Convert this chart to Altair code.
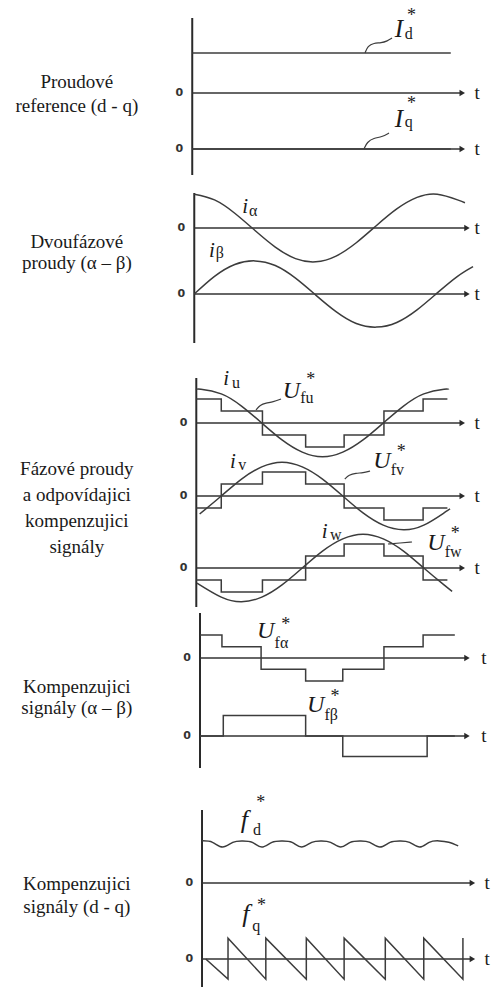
import altair as alt
import pandas as pd

INK = "#3c3c3c"
TEXT_INK = "#1a1a1a"
SERIF = "Liberation Serif, Times New Roman, Tinos, DejaVu Serif, serif"

# Canvas and time scale (t = electrical angle in degrees)
W, H = 491, 987
T_MIN, T_MAX = -297.8, 429.6
UNIT = 36  # drawn height of one signal unit

# ---------------- signals ----------------
# current references in d-q
T_REF = [-13, 370]
I_D_REF = [1.11, 1.11]
I_Q_REF = [0.0, 0.0]

# two-phase currents
T_ALPHA = [-10, 20, 50, 80, 110, 140, 170, 200, 230, 260, 290, 320, 350, 380, 391]
I_ALPHA = [0.94, 0.78, 0.41, -0.07, -0.53, -0.85, -0.94, -0.78, -0.41, 0.07, 0.53, 0.85, 0.94, 0.78, 0.70]
T_BETA = [-10, 20, 50, 80, 110, 140, 170, 200, 230, 260, 290, 320, 350, 380, 403]
I_BETA = [0.0, 0.49, 0.82, 0.92, 0.79, 0.44, -0.03, -0.49, -0.82, -0.92, -0.79, -0.44, 0.03, 0.49, 0.76]

# phase currents
T_U = [-7, 0, 30, 60, 90, 120, 150, 180, 210, 240, 270, 300, 330, 360, 367]
I_U = [0.93, 0.94, 0.81, 0.47, 0.0, -0.47, -0.81, -0.94, -0.81, -0.47, 0.0, 0.47, 0.81, 0.94, 0.93]
T_V = [-2, 30, 60, 90, 120, 150, 180, 210, 240, 270, 300, 330, 360, 369]
I_V = [-0.50, 0.0, 0.47, 0.81, 0.94, 0.81, 0.47, 0.0, -0.47, -0.81, -0.94, -0.81, -0.47, -0.36]
T_W = [-6, 30, 60, 90, 120, 150, 180, 210, 240, 270, 300, 330, 360, 372]
I_W = [-0.42, -0.81, -0.94, -0.81, -0.47, 0.0, 0.47, 0.81, 0.94, 0.81, 0.47, 0.0, -0.47, -0.65]

# six-step compensating signals of the phases
EDGES_UVW = [30, 91, 155, 212, 271, 329]
SPAN_UVW = (-7, 365)
U_FU = [0.67, 0.33, -0.33, -0.67, -0.33, 0.33, 0.67]
U_FV = [-0.33, 0.33, 0.67, 0.33, -0.33, -0.67, -0.33]
U_FW = [-0.33, -0.67, -0.33, 0.33, 0.67, 0.33, -0.33]

# compensating signals in alpha-beta
EDGES_FA = [31, 89, 155, 210, 271, 329]
U_FALPHA = [0.64, 0.31, -0.31, -0.64, -0.31, 0.31, 0.64]
EDGES_FB = [33, 155, 210, 335]
U_FBETA = [0.0, 0.57, 0.0, -0.57, 0.0]
SPAN_AB = (-1.5, 376)

# compensating signals in d-q
T_FD = [1.5, 17, 32, 47, 61, 76, 90, 105, 120, 135, 149, 164, 178, 192, 207,
        221, 236, 250, 265, 280, 295, 309, 324, 338, 353, 367, 381]
F_D = [1.17, 1.13, 1.0, 1.13, 1.17, 1.13, 1.0, 1.13, 1.17, 1.13, 1.0, 1.13, 1.17, 1.13, 1.0,
       1.13, 1.17, 1.13, 1.0, 1.13, 1.17, 1.13, 1.0, 1.13, 1.17, 1.13, 1.03]
T_FQ = [7, 40, 40, 96, 96, 156, 156, 212, 212, 273, 273, 330, 330, 388, 388]
F_Q = [0.0, -0.56, 0.58, -0.56, 0.58, -0.56, 0.58, -0.56, 0.58, -0.56, 0.58, -0.56, 0.58, -0.56, 0.58]

# ---------------- layout ----------------
ROW_BASE = {"d_ref": 93, "q_ref": 149, "alpha": 228, "beta": 294,
            "u": 423, "v": 496, "w": 568, "f_alpha": 658, "f_beta": 736,
            "f_d": 883, "f_q": 959}
ROW_GROUP = {"d_ref": 0, "q_ref": 0, "alpha": 1, "beta": 1, "u": 2, "v": 2, "w": 2,
             "f_alpha": 3, "f_beta": 3, "f_d": 4, "f_q": 4}
GROUP_AXIS_T = [-13, -10, -7, -1.5, 1.5]
GROUP_AXIS_TOP = [18, 193, 378, 613, 810]
GROUP_AXIS_BOTTOM = [175, 343, 607, 768, 987]
GROUP_TIP_T = [391, 398, 391, 398, 406]
GROUP_TLABEL_T = [409, 409, 409, 419, 424]

GROUP_TEXT = [
    (["Proudové", "reference (d - q)"], [82, 106]),
    (["Dvoufázové", "proudy (α – β)"], [242, 263]),
    (["Fázové proudy", "a odpovídajici", "kompenzujici", "signály"], [469, 495, 521, 547]),
    (["Kompenzujici", "signály (α – β)"], [687, 708]),
    (["Kompenzujici", "signály (d  - q)"], [884, 907]),
]
GROUP_TEXT_T = -184

# signal names: italic main letter, upright index, optional star above the index
# (main, size, main (t, y), index, index (t, y), star (t, y) or None)
SIGNAL_LABELS = [
    ("I", 25, (287, 37), "d", (302, 39), (305, 21)),
    ("I", 25, (287, 127), "q", (302, 127), (305, 109)),
    ("i", 21, (61, 213), "α", (71, 216), None),
    ("i", 21, (12, 257), "β", (22, 258), None),
    ("i", 21, (33, 385), "u", (46, 388), None),
    ("U", 24, (121, 398), "fu", (147, 403), (156, 385)),
    ("i", 21, (43, 468), "v", (55, 470), None),
    ("U", 24, (255, 468), "fv", (281, 475), (290, 457)),
    ("i", 21, (179, 538), "w", (191, 540), None),
    ("U", 24, (335, 550), "fw", (361, 557), (370, 539)),
    ("U", 24, (83, 638), "fα", (109, 648), (119, 630)),
    ("U", 24, (157, 712), "fβ", (183, 720), (192, 702)),
    ("f", 26, (59, 828), "d", (77, 835), (82, 808)),
    ("f", 26, (61, 922), "q", (76, 931), (83, 911)),
]

# small pointer strokes from a name to its trace
LEADERS = {
    "I_d": ([243, 247, 256, 267, 276, 283], [53, 46, 43, 43, 41, 38]),
    "I_q": ([241.5, 246, 256, 268, 278.5], [149, 142, 138, 137, 133]),
    "U_fu": ([81.5, 87.4, 96.3, 106.7, 118.5], [410, 405, 403, 402, 399]),
    "U_fv": ([213, 219, 229.6, 240, 250.4], [479, 475, 473, 473, 471]),
    "U_fw": ([277, 295, 312.6], [544, 543, 542]),
}


def steps(edges, levels, start, end):
    ts, vs = [start], [levels[0]]
    for e, a, b in zip(edges, levels[:-1], levels[1:]):
        ts += [e, e]
        vs += [a, b]
    ts.append(end)
    vs.append(levels[-1])
    return ts, vs


def trace(name, row, ts, vs):
    base = ROW_BASE[row]
    return pd.DataFrame({"series": name, "i": range(len(ts)), "t": ts,
                         "y": [base - v * UNIT for v in vs]})


smooth = pd.concat([
    trace("i_alpha", "alpha", T_ALPHA, I_ALPHA),
    trace("i_beta", "beta", T_BETA, I_BETA),
    trace("i_u", "u", T_U, I_U),
    trace("i_v", "v", T_V, I_V),
    trace("i_w", "w", T_W, I_W),
    trace("f_d", "f_d", T_FD, F_D),
], ignore_index=True)

poly = pd.concat([
    trace("I_d", "d_ref", T_REF, I_D_REF),
    trace("I_q", "q_ref", T_REF, I_Q_REF),
    trace("U_fu", "u", *steps(EDGES_UVW, U_FU, *SPAN_UVW)),
    trace("U_fv", "v", *steps(EDGES_UVW, U_FV, *SPAN_UVW)),
    trace("U_fw", "w", *steps(EDGES_UVW, U_FW, *SPAN_UVW)),
    trace("U_falpha", "f_alpha", *steps(EDGES_FA, U_FALPHA, *SPAN_AB)),
    trace("U_fbeta", "f_beta", *steps(EDGES_FB, U_FBETA, *SPAN_AB)),
    trace("f_q", "f_q", T_FQ, F_Q),
], ignore_index=True)

leaders = pd.concat([
    pd.DataFrame({"series": k, "i": range(len(ts)), "t": ts, "y": ys})
    for k, (ts, ys) in LEADERS.items()
], ignore_index=True)

axes_v = pd.DataFrame({"t": GROUP_AXIS_T, "top": GROUP_AXIS_TOP, "bottom": GROUP_AXIS_BOTTOM})

zero_rows = []
for row, base in ROW_BASE.items():
    g = ROW_GROUP[row]
    zero_rows.append({"row": row, "t0": GROUP_AXIS_T[g], "t1": GROUP_TIP_T[g] - 3,
                      "tip": GROUP_TIP_T[g] - 4, "tl": GROUP_TLABEL_T[g],
                      "tz": GROUP_AXIS_T[g] - 19, "y": base})
zeros = pd.DataFrame(zero_rows)

desc = pd.DataFrame([
    {"t": GROUP_TEXT_T, "y": y, "text": line}
    for lines, ys in GROUP_TEXT for line, y in zip(lines, ys)
])

italic = pd.DataFrame([
    {"t": pm[0], "y": pm[1], "text": main, "size": size}
    for main, size, pm, _, _, _ in SIGNAL_LABELS
])
index = pd.DataFrame([
    {"t": pi[0], "y": pi[1], "text": sub}
    for _, _, _, sub, pi, _ in SIGNAL_LABELS
])
stars = pd.DataFrame([
    {"t": ps[0], "y": ps[1], "text": "*"}
    for *_, ps in SIGNAL_LABELS if ps is not None
])

# ---------------- chart ----------------
xs = alt.Scale(domain=[T_MIN, T_MAX], nice=False, zero=False)
ys = alt.Scale(domain=[0, H], reverse=True, nice=False, zero=False)
X = alt.X("t:Q", scale=xs, axis=None)
Y = alt.Y("y:Q", scale=ys, axis=None)

smooth_layer = alt.Chart(smooth).mark_line(
    interpolate="natural", stroke=INK, strokeWidth=1.5
).encode(x=X, y=Y, detail="series:N", order="i:Q")

poly_layer = alt.Chart(poly).mark_line(
    interpolate="linear", stroke=INK, strokeWidth=1.5
).encode(x=X, y=Y, detail="series:N", order="i:Q")

leader_layer = alt.Chart(leaders).mark_line(
    interpolate="basis", stroke=INK, strokeWidth=1.2
).encode(x=X, y=Y, detail="series:N", order="i:Q")

axis_layer = alt.Chart(axes_v).mark_rule(stroke="#2a2a2a", strokeWidth=2.0).encode(
    x=X, y=alt.Y("top:Q", scale=ys, axis=None), y2="bottom:Q"
)

zero_layer = alt.Chart(zeros).mark_rule(stroke="#333333", strokeWidth=1.6).encode(
    x=alt.X("t0:Q", scale=xs, axis=None), x2="t1:Q", y=Y
)

arrow_layer = alt.Chart(zeros).mark_point(
    shape="triangle-right", filled=True, size=40, color="#2a2a2a", opacity=1, strokeWidth=0
).encode(x=alt.X("tip:Q", scale=xs, axis=None), y=Y)

tlabel_layer = alt.Chart(zeros).mark_text(
    text="t", font=SERIF, fontSize=19, color=TEXT_INK, align="center", baseline="middle"
).encode(x=alt.X("tl:Q", scale=xs, axis=None), y=Y)

zlabel_layer = alt.Chart(zeros).mark_text(
    text="0", font="DejaVu Sans", fontSize=11, fontWeight="bold", color="#333333",
    align="center", baseline="middle"
).encode(x=alt.X("tz:Q", scale=xs, axis=None), y=Y)

desc_layer = alt.Chart(desc).mark_text(
    font=SERIF, fontSize=19, color=TEXT_INK, align="center", baseline="middle"
).encode(x=X, y=Y, text="text:N")

italic_layer = alt.Chart(italic).mark_text(
    font=SERIF, fontStyle="italic", color=TEXT_INK, align="left", baseline="alphabetic"
).encode(x=X, y=Y, text="text:N", size=alt.Size("size:Q", scale=None))

index_layer = alt.Chart(index).mark_text(
    font=SERIF, fontSize=16, color=TEXT_INK, align="left", baseline="alphabetic"
).encode(x=X, y=Y, text="text:N")

star_layer = alt.Chart(stars).mark_text(
    font=SERIF, fontSize=18, color=TEXT_INK, align="left", baseline="alphabetic"
).encode(x=X, y=Y, text="text:N")

chart = alt.layer(
    axis_layer, zero_layer, arrow_layer, smooth_layer, poly_layer, leader_layer,
    tlabel_layer, zlabel_layer, desc_layer, italic_layer, index_layer, star_layer,
).properties(
    width=W, height=H, autosize=alt.AutoSizeParams(type="none"), padding=0,
    background="white",
).configure_view(stroke=None)

chart.save("out.html", embed_options={"renderer": "svg", "actions": False})
